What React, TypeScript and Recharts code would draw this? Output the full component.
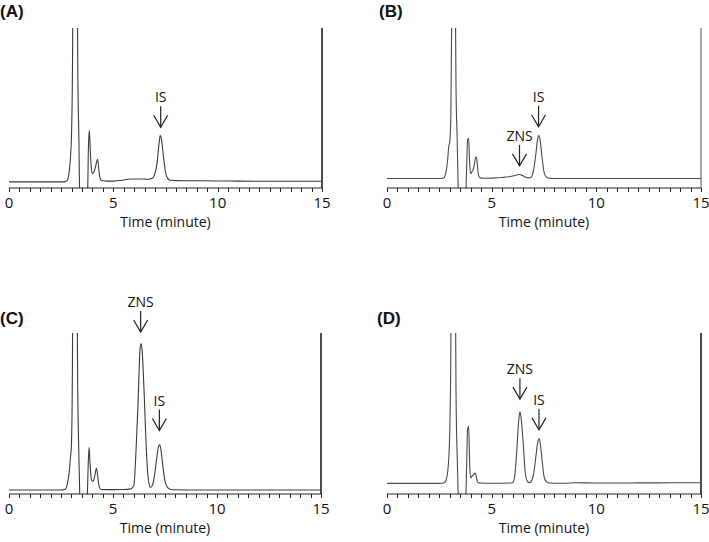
import { LineChart, Line, XAxis, YAxis, ReferenceLine, ReferenceDot } from 'recharts'

// retention time grid (minutes), shared by the four chromatograms
const TIMES = [
  0, 1, 2, 2.5, 2.7, 2.8, 2.9, 2.95, 3.0, 3.05,
  3.1, 3.15, 3.2, 3.25, 3.3, 3.35, 3.4, 3.45, 3.6, 3.75,
  3.8, 3.85, 3.9, 3.95, 4.0, 4.05, 4.1, 4.15, 4.2, 4.25,
  4.3, 4.35, 4.4, 4.5, 4.7, 5.0, 5.5, 5.8, 6.0, 6.1,
  6.2, 6.3, 6.35, 6.4, 6.5, 6.6, 6.7, 6.8, 6.9, 7.0,
  7.1, 7.2, 7.25, 7.3, 7.4, 7.5, 7.6, 7.7, 7.8, 8.0,
  8.5, 9.0, 10, 11, 12, 13, 14, 15,
]

// detector response, % of full scale (off-scale values get clipped)
const SIGNAL_A = [
  3.8, 3.8, 3.8, 3.8, 4.0, 5, 12, 20, 35, 90,
  260, 400, 400, 180, 70, 30, -20, -50, -50, -20,
  22, 36, 22, 12, 9, 9.5, 11, 13.5, 16.5, 18,
  12, 7, 5, 4.5, 4.3, 4.3, 5.0, 5.6, 5.6, 5.6,
  5.6, 5.6, 5.6, 5.6, 5.6, 5.5, 5.5, 5.8, 6.5, 9.5,
  16, 29, 33, 31, 20, 10, 6, 5, 4.8, 4.6,
  4.5, 4.5, 4.4, 4.3, 4.2, 4.2, 4.2, 4.2,
]
const SIGNAL_B = [
  5.9, 5.9, 5.9, 5.9, 6.2, 9, 18, 26, 29, 45,
  120, 400, 400, 150, 60, 32, 0, -40, -40, -10,
  10, 30, 31, 15, 9, 10, 11, 13, 17, 19.5,
  17, 10, 7, 6.2, 6.1, 6.2, 6.6, 7.0, 7.5, 7.8,
  8.1, 8.4, 8.4, 8.2, 7.6, 6.8, 6.4, 6.3, 7, 11,
  20, 31, 33, 31, 20, 10, 7, 6.2, 6, 5.9,
  5.9, 5.9, 5.9, 5.9, 5.9, 5.9, 5.9, 5.9,
]
const SIGNAL_C = [
  2.5, 2.5, 2.5, 2.5, 3, 6, 14, 22, 30, 80,
  250, 400, 400, 180, 70, 30, 0, -40, -40, -10,
  15, 29, 18, 10, 8, 8, 10, 13, 16, 13,
  7, 4, 3, 2.8, 2.7, 2.7, 2.8, 3.0, 5, 25,
  55, 90, 93.5, 89, 62, 28, 9, 4, 5.5, 12,
  22, 30, 30.5, 28, 17, 8, 4.5, 3.2, 2.8, 2.6,
  2.5, 2.5, 2.5, 2.5, 2.5, 2.5, 2.5, 2.5,
]
const SIGNAL_D = [
  6.6, 6.6, 6.6, 6.6, 6.8, 8, 14, 22, 40, 90,
  250, 400, 400, 160, 60, 25, 0, -40, -40, -10,
  15, 40, 42, 18, 10, 11, 11.5, 12, 13, 12,
  8.5, 7.2, 6.9, 6.8, 6.7, 6.7, 6.7, 6.8, 7, 11,
  27, 47, 51, 48, 33, 14, 8, 7, 8, 12,
  22, 32, 34.5, 33, 22, 11, 7.8, 7, 6.8, 6.7,
  6.7, 7.0, 6.8, 6.8, 6.9, 6.9, 7.0, 7.0,
]

// labelled peaks: retention time and where the arrow points
const PEAKS_A = [{ name: 'IS', time: 7.27, tip: 38 }]
const PEAKS_B = [
  { name: 'ZNS', time: 6.33, tip: 13.8 },
  { name: 'IS', time: 7.24, tip: 38.3 },
]
const PEAKS_C = [
  { name: 'ZNS', time: 6.33, tip: 100.6 },
  { name: 'IS', time: 7.23, tip: 39.4 },
]
const PEAKS_D = [
  { name: 'ZNS', time: 6.35, tip: 58.9 },
  { name: 'IS', time: 7.26, tip: 39.8 },
]

const X_TICKS = [
  0, 0.5, 1, 1.5, 2, 2.5, 3, 3.5, 4, 4.5, 5, 5.5, 6, 6.5, 7, 7.5,
  8, 8.5, 9, 9.5, 10, 10.5, 11, 11.5, 12, 12.5, 13, 13.5, 14, 14.5, 15,
]
const X_LABELS = [0, 5, 10, 15]
const Y_TICKS = [0, 5, 10, 15, 20, 25, 30, 35, 40, 45, 50, 55, 60, 65, 70, 75, 80, 85, 90, 95, 100]

const FONT = '"Open Sans", sans-serif'
const TICK_SIZE = 4
const TICK_MARGIN = 2

type Peak = { name: string; time: number; tip: number }

const arrowShape = (name: string) => (props: any) => {
  const { cx, cy } = props
  if (cx == null || cy == null) return <g />
  return (
    <g>
      <line x1={cx} y1={cy} x2={cx} y2={cy - 21} stroke="#222" strokeWidth={1.2} />
      <polyline points={`${cx - 7},${cy - 12} ${cx},${cy} ${cx + 7},${cy - 12}`} fill="none" stroke="#222" strokeWidth={1.2} />
      <text x={cx} y={cy - 25} textAnchor="middle" fontSize={14} fontFamily={FONT} fill="#111">
        {name}
      </text>
    </g>
  )
}

// draws the small tick mark itself, and a number only on whole 5 minutes
const renderXTick = (props: any) => {
  const { x, y, payload } = props
  const top = y - TICK_MARGIN - TICK_SIZE
  const px = Math.round(x) + 0.5
  return (
    <g>
      <line x1={px} y1={top} x2={px} y2={top + TICK_SIZE} stroke="#222" strokeWidth={1} />
      {X_LABELS.includes(payload.value) && (
        <text x={x} y={y} dy={14} textAnchor="middle" fontSize={15} fontFamily={FONT} fill="#111">
          {payload.value}
        </text>
      )}
    </g>
  )
}

const renderYTick = (props: any) => {
  const { x, y } = props
  const right = x + TICK_MARGIN + 3
  const py = Math.round(y) + 0.5
  return <line x1={right - 3} y1={py} x2={right} y2={py} stroke="#444" strokeWidth={1} />
}

interface PanelProps {
  letter: string
  signal: number[]
  peaks: Peak[]
  left: number
  top: number
  width: number
  height: number
  margin: { top: number; right: number; left: number; bottom: number }
  axisHeight: number
  labelOffset: number
  letterPos: { left: number; top: number }
  lineColor: string
  borderColor: string
}

function Panel(p: PanelProps) {
  const data = TIMES.map((t, i) => ({ t, v: p.signal[i] }))
  return (
    <div style={{ position: 'absolute', left: p.left, top: p.top, width: p.width, height: p.height }}>
      <LineChart width={p.width} height={p.height} data={data} margin={p.margin}>
        <XAxis
          dataKey="t"
          type="number"
          domain={[0, 15]}
          ticks={X_TICKS}
          interval={0}
          tick={renderXTick}
          tickLine={false}
          tickSize={TICK_SIZE}
          tickMargin={TICK_MARGIN}
          height={p.axisHeight}
          stroke="#222"
          label={{ value: 'Time (minute)', position: 'insideBottom', offset: p.labelOffset, fontSize: 14, fontFamily: FONT, fill: '#111' }}
        />
        <YAxis
          type="number"
          domain={[0, 100]}
          allowDataOverflow
          ticks={Y_TICKS}
          interval={0}
          tick={renderYTick}
          tickLine={false}
          tickSize={3}
          tickMargin={TICK_MARGIN}
          width={0}
          stroke="#333"
        />
        <ReferenceLine x={15} stroke={p.borderColor} strokeWidth={1.5} />
        <Line
          type="monotone"
          dataKey="v"
          stroke={p.lineColor}
          strokeWidth={1.1}
          dot={false}
          activeDot={false}
          isAnimationActive={false}
        />
        {p.peaks.map((pk) => (
          <ReferenceDot key={pk.name} x={pk.time} y={pk.tip} ifOverflow="visible" shape={arrowShape(pk.name)} />
        ))}
      </LineChart>
      <div
        style={{
          position: 'absolute',
          left: p.letterPos.left,
          top: p.letterPos.top,
          fontFamily: '"Liberation Sans", Arial, sans-serif',
          fontWeight: 'bold',
          fontSize: 17,
          lineHeight: '17px',
          color: '#111',
        }}
      >
        {p.letter}
      </div>
    </div>
  )
}

export default function App() {
  return (
    <div style={{ position: 'absolute', left: 0, top: 0, width: 709, height: 542, background: '#fff', overflow: 'hidden' }}>
      <Panel
        letter="(A)"
        signal={SIGNAL_A}
        peaks={PEAKS_A}
        left={0}
        top={0}
        width={354}
        height={232}
        margin={{ top: 28, right: 32, left: 9, bottom: 0 }}
        axisHeight={44}
        labelOffset={5}
        letterPos={{ left: 0, top: 3 }}
        lineColor="#3a3a3a"
        borderColor="#111"
      />
      <Panel
        letter="(B)"
        signal={SIGNAL_B}
        peaks={PEAKS_B}
        left={354}
        top={0}
        width={355}
        height={232}
        margin={{ top: 28, right: 8, left: 33, bottom: 0 }}
        axisHeight={44}
        labelOffset={5}
        letterPos={{ left: 25, top: 3 }}
        lineColor="#4a4a4a"
        borderColor="#888"
      />
      <Panel
        letter="(C)"
        signal={SIGNAL_C}
        peaks={PEAKS_C}
        left={0}
        top={290}
        width={354}
        height={252}
        margin={{ top: 43, right: 33, left: 9, bottom: 0 }}
        axisHeight={48}
        labelOffset={9}
        letterPos={{ left: 0, top: 20 }}
        lineColor="#3a3a3a"
        borderColor="#111"
      />
      <Panel
        letter="(D)"
        signal={SIGNAL_D}
        peaks={PEAKS_D}
        left={354}
        top={290}
        width={355}
        height={252}
        margin={{ top: 43, right: 8, left: 33, bottom: 0 }}
        axisHeight={48}
        labelOffset={9}
        letterPos={{ left: 23, top: 20 }}
        lineColor="#4a4a4a"
        borderColor="#111"
      />
    </div>
  )
}
